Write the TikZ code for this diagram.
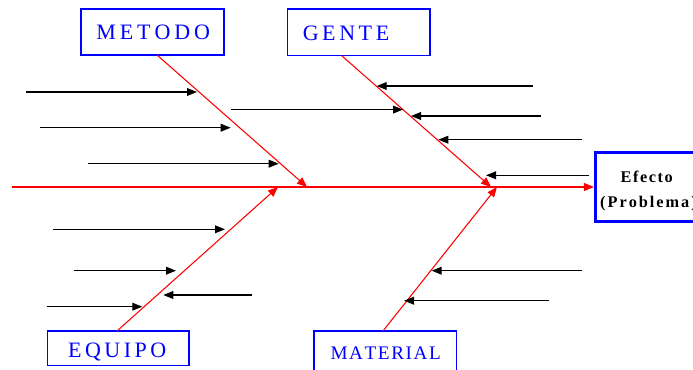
\documentclass[tikz,border=0pt]{standalone}
\usepackage{fontspec}
\setmainfont{Liberation Serif}
\usetikzlibrary{arrows.meta}

% letter-spaced text: \lspaced{gap}{LETTERS}
\makeatletter
\newcommand\lspaced[2]{\def\ls@gap{#1}\ls@loop#2\@nil}
\def\ls@loop#1#2\@nil{#1\ifx\relax#2\relax\else\kern\ls@gap\ls@loop#2\@nil\fi}
\makeatother

\begin{document}
\begin{tikzpicture}[x=0.75pt,y=-0.75pt,
  catbox/.style={draw=blue, line width=1pt, inner sep=0pt, minimum width=#1},
  catlabel/.style={anchor=base, inner sep=0pt, text=blue,
    font=\fontsize{16.5}{20}\selectfont},
  effbox/.style={draw=blue, line width=2.25pt, inner sep=0pt,
    minimum width=76.9pt, minimum height=52.1pt},
  efflabel/.style={anchor=base, inner sep=0pt,
    font=\bfseries\fontsize{12.2}{14}\selectfont},
  spine/.style={draw=red, line width=0.8pt,
    -{Triangle[length=7.5pt,width=6pt]}},
  cause/.style={draw=black, line width=1pt,
    -{Triangle[length=7.5pt,width=5.8pt]}}]

\useasboundingbox (0,0) rectangle (693,370);

% category boxes
\node[catbox=107.25pt, minimum height=34.5pt] (metodo) at (152.5,32) {};
\node[catbox=107pt, minimum height=35pt] (gente) at (358.7,32.3) {};
\node[catbox=106.3pt, minimum height=25.7pt] (equipo) at (118.2,348.2) {};
\node[catbox=107pt, minimum height=36.75pt] (material) at (385.3,355.5) {};

\node[catlabel] (metodoTxt) at (153.2,40) {\lspaced{2.9pt}{METODO}};
\node[catlabel] (genteTxt) at (346,40.5) {\lspaced{2.7pt}{GENTE}};
\node[catlabel] (equipoTxt) at (117.2,357.7) {\lspaced{2.6pt}{EQUIPO}};
\node[catlabel, font=\fontsize{14.4}{17}\selectfont] (materialTxt) at (385.7,359.3) {\lspaced{1.2pt}{MATERIAL}};

% effect box
\node[effbox] (efecto) at (646.7,187.2) {};
\node[efflabel] (efectoTxt) at (646.7,182.7) {\lspaced{1.15pt}{Efecto}};
\node[efflabel] (problemaTxt) at (648.5,208) {\lspaced{1.5pt}{(Problema)}};

% spine
\coordinate (tail) at (12,187);
\draw[spine] (tail) -- (tail -| efecto.west);

% main bones
\coordinate (mA) at (157,55);    \coordinate (mB) at (307,187);
\coordinate (gA) at (341.7,55.7); \coordinate (gB) at (491,187);
\coordinate (eA) at (117,331);   \coordinate (eB) at (278,187);
\coordinate (tA) at (383,331);   \coordinate (tB) at (497,187);
\draw[spine] (mA) -- (mB);
\draw[spine] (gA) -- (gB);
\draw[spine] (eA) -- (eB);
\draw[spine] (tA) -- (tB);

% causes on the METODO bone
\coordinate (m1a) at (26,92);    \coordinate (m1b) at (197,92);
\coordinate (m2a) at (40,127.7); \coordinate (m2b) at (230.7,127.7);
\coordinate (m3a) at (88,163.7); \coordinate (m3b) at (278.7,163.7);
\draw[cause] (m1a) -- (m1b);
\draw[cause] (m2a) -- (m2b);
\draw[cause] (m3a) -- (m3b);

% causes on the GENTE bone
\coordinate (g0a) at (231,109.6);  \coordinate (g0b) at (403,109.6);
\coordinate (g1a) at (533,86);     \coordinate (g1b) at (376.7,86);
\coordinate (g2a) at (540.7,116);  \coordinate (g2b) at (411,116);
\coordinate (g3a) at (581.7,139.7); \coordinate (g3b) at (438.3,139.7);
\coordinate (g4a) at (589.3,175.3); \coordinate (g4b) at (486,175.3);
\draw[cause] (g0a) -- (g0b);
\draw[cause] (g1a) -- (g1b);
\draw[cause] (g2a) -- (g2b);
\draw[cause] (g3a) -- (g3b);
\draw[cause] (g4a) -- (g4b);

% causes on the EQUIPO bone
\coordinate (e1a) at (53,229.3);   \coordinate (e1b) at (225,229.3);
\coordinate (e2a) at (74,270.7);   \coordinate (e2b) at (176,270.7);
\coordinate (e3a) at (251.7,295);  \coordinate (e3b) at (163.3,295);
\coordinate (e4a) at (46.7,306.7); \coordinate (e4b) at (142.3,306.7);
\draw[cause] (e1a) -- (e1b);
\draw[cause] (e2a) -- (e2b);
\draw[cause] (e3a) -- (e3b);
\draw[cause] (e4a) -- (e4b);

% causes on the MATERIAL bone
\coordinate (t1a) at (581.7,270.7); \coordinate (t1b) at (431.7,270.7);
\coordinate (t2a) at (549,300.7);   \coordinate (t2b) at (404,300.7);
\draw[cause] (t1a) -- (t1b);
\draw[cause] (t2a) -- (t2b);
\end{tikzpicture}
\end{document}
